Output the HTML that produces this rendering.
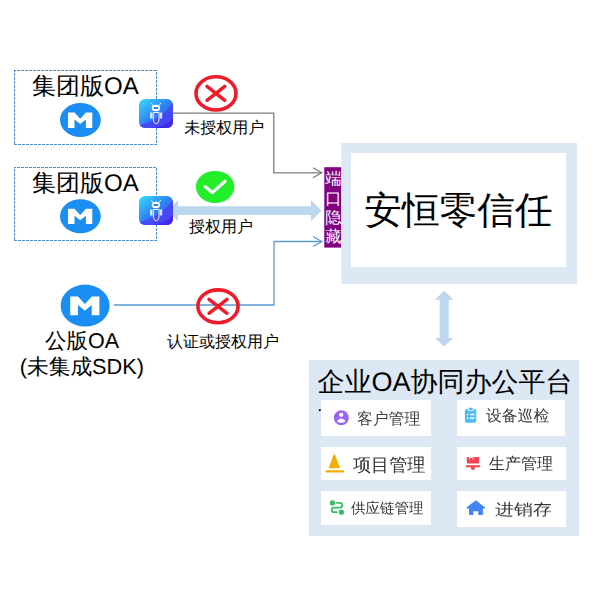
<!DOCTYPE html>
<html><head><meta charset="utf-8">
<style>
html,body{margin:0;padding:0;background:#fff;}
body{width:601px;height:601px;position:relative;overflow:hidden;font-family:"Liberation Sans",sans-serif;}
svg.bg{position:absolute;left:0;top:0;}
.t{position:absolute;white-space:nowrap;line-height:1;color:#000;text-rendering:geometricPrecision;}
</style></head><body>
<svg class="bg" width="601" height="601" viewBox="0 0 601 601">
  <defs>
    <filter id="soft" x="-10%" y="-10%" width="120%" height="120%"><feGaussianBlur stdDeviation="0.45"/></filter>
    <linearGradient id="rg" x1="0" y1="0" x2="1" y2="1">
      <stop offset="0" stop-color="#33e0fb"/>
      <stop offset="0.5" stop-color="#3080f4"/>
      <stop offset="1" stop-color="#3b55f2"/>
    </linearGradient>
    <g id="robot">
      <clipPath id="rclip"><rect x="0" y="0" width="34" height="29" rx="6" ry="6"/></clipPath>
      <rect x="0" y="0" width="34" height="29" rx="6" ry="6" fill="url(#rg)"/>
      <g clip-path="url(#rclip)">
        <path d="M0 26 Q20 22 34 4 L34 29 L0 29Z" fill="#4b40f2" opacity="0.8"/>
        <path d="M12 29 Q28 27 34 19 L34 29Z" fill="#3f1ce8" opacity="0.7"/>
      </g>
      <g stroke="#fff" fill="none" stroke-width="0.9">
        <line x1="12.1" y1="4" x2="14.1" y2="6.4"/>
        <line x1="21.9" y1="4" x2="19.9" y2="6.4"/>
        <path d="M14.3 13.5 L20.1 13.5 L20.1 18 Q20.1 24.7 17.2 24.7 Q14.3 24.7 14.3 18 Z"/>
      </g>
      <ellipse cx="16.9" cy="9" rx="4.2" ry="3.3" fill="#fff"/>
      <rect x="14.5" y="8" width="4.8" height="2.1" rx="1" fill="#2b80f2"/>
      <rect x="11.1" y="13.6" width="2.4" height="5.8" rx="0.3" fill="#fff" opacity="0.82"/>
      <rect x="20.8" y="13.6" width="2.4" height="5.8" rx="0.3" fill="#fff" opacity="0.82"/>
    </g>
    <g id="mlogo">
      <ellipse cx="0" cy="0" rx="20.4" ry="17" fill="#1a8ef3"/>
      <path d="M-12.4 7.9 L-12.4 -7.4 L-5.9 -7.4 L-0.2 -1.3 L5.5 -7.4 L11.9 -7.4 L11.9 7.9 L5.5 7.9 L5.5 -0.4 L-0.2 4.1 L-5.9 -0.4 L-5.9 7.9 Z" fill="#fff"/>
    </g>
  </defs>

  <!-- dashed boxes -->
  <g stroke="#4d8fd4" stroke-width="1" stroke-dasharray="3 1" fill="none">
    <line x1="14" y1="70.5" x2="157" y2="70.5" stroke-dashoffset="1"/>
    <line x1="14.5" y1="70" x2="14.5" y2="145" stroke-dashoffset="1"/>
    <line x1="14" y1="144.5" x2="157" y2="144.5" stroke-dashoffset="0"/>
    <line x1="156.5" y1="70" x2="156.5" y2="145" stroke-dashoffset="2"/>
    <line x1="14" y1="167.5" x2="157" y2="167.5" stroke-dashoffset="1"/>
    <line x1="14.5" y1="167" x2="14.5" y2="241" stroke-dashoffset="2"/>
    <line x1="14" y1="240.5" x2="157" y2="240.5" stroke-dashoffset="0"/>
    <line x1="156.5" y1="167" x2="156.5" y2="241" stroke-dashoffset="3"/>
  </g>

  <!-- gray connector -->
  <polyline points="173,113.2 273.8,113.2 273.8,172.8 321.5,172.8" fill="none" stroke="#7f7f7f" stroke-width="1.3"/>
  <polyline points="313,167.8 321.8,172.8 313,177.8" fill="none" stroke="#7f7f7f" stroke-width="1.3"/>

  <!-- blue connector -->
  <polyline points="114,305 274,305 274,241.5 321.5,241.5" fill="none" stroke="#5b9bd5" stroke-width="1.3"/>
  <polyline points="313,236.5 321.8,241.5 313,246.5" fill="none" stroke="#5b9bd5" stroke-width="1.3"/>

  <!-- thick double arrow -->
  <path filter="url(#soft)" d="M168 210.5 L178 200 L178 206.2 L311 206.2 L311 200.2 L321.5 210.6 L311 221.2 L311 215 L178 215 L178 221.5 Z" fill="#bdd7ee"/>

  <!-- logos -->
  <use href="#mlogo" transform="translate(80.4,120)"/>
  <use href="#mlogo" transform="translate(80.4,216.2)"/>
  <use href="#mlogo" transform="translate(85.1,305.6) scale(1.2,1.235)"/>

  <!-- robots -->
  <use href="#robot" transform="translate(139,99)"/>
  <use href="#robot" transform="translate(139,196)"/>

  <!-- red x circles -->
  <ellipse cx="216" cy="93.4" rx="20" ry="16.6" fill="#fff" stroke="#ee1c2b" stroke-width="3.6"/>
  <path d="M207 86.3 L224.8 100.3 M224.8 86.3 L207 100.3" stroke="#ee1c2b" stroke-width="3.4" stroke-linecap="round"/>
  <ellipse cx="218" cy="306.3" rx="20.1" ry="16.4" fill="none" stroke="#ee1c2b" stroke-width="3.6"/>
  <path d="M209 299.3 L227 313.3 M227 299.3 L209 313.3" stroke="#ee1c2b" stroke-width="3.4" stroke-linecap="round"/>
  <!-- green check -->
  <ellipse cx="215.1" cy="186.9" rx="19.2" ry="16" fill="#22ee2a"/>
  <polyline points="205,186.6 212.3,192.6 225,181.3" fill="none" stroke="#fff" stroke-width="3.2" stroke-linecap="round" stroke-linejoin="round"/>

  <!-- purple bar -->
  <rect x="324.3" y="167.2" width="17" height="80.4" fill="#800080"/>

  <!-- zero trust panel -->
  <rect x="341.2" y="143" width="236" height="141" fill="#dce8f4"/>
  <rect x="351" y="153" width="215" height="114" fill="#fff"/>

  <!-- vertical double arrow -->
  <path filter="url(#soft)" d="M444.2 290.8 L453.6 299.8 L448.7 299.8 L448.7 338 L453.6 338 L444.2 346.6 L434.9 338 L439.7 338 L439.7 299.8 L434.9 299.8 Z" fill="#bdd7ee"/>

  <!-- OA panel -->
  <rect x="309" y="360" width="270" height="176" fill="#dce8f4"/>
  <rect x="321" y="400" width="110" height="36" fill="#fff"/>
  <rect x="321" y="447" width="110" height="33" fill="#fff"/>
  <rect x="321" y="491" width="110" height="34" fill="#fff"/>
  <rect x="457" y="400" width="108" height="36" fill="#fff"/>
  <rect x="457" y="447" width="109" height="33" fill="#fff"/>
  <rect x="457" y="491" width="109" height="36" fill="#fff"/>

  <!-- icons -->
  <circle cx="319.8" cy="410.2" r="1.1" fill="#111"/>
  <circle cx="341.3" cy="417.7" r="7.5" fill="#9b62f6"/>
  <circle cx="341.2" cy="414.8" r="2.15" fill="#fff"/>
  <path d="M336.7 421.2 Q341.2 416 345.7 421.2 Q341.2 424.5 336.7 421.2Z" fill="#fff"/>

  <path d="M334.3 454.3 Q335 454.3 335.5 456 L340 468.3 L328.6 468.3 L333.1 456 Q333.6 454.3 334.3 454.3Z" fill="#f2b000"/>
  <line x1="326.5" y1="471.3" x2="343" y2="471.3" stroke="#f2b000" stroke-width="2.3" stroke-linecap="round"/>

  <circle cx="332.4" cy="502.9" r="2.6" fill="#38bb66"/>
  <circle cx="341.4" cy="512.2" r="2.6" fill="#38bb66"/>
  <path d="M336.3 502.9 L339.8 502.9 A2.4 2.4 0 0 1 339.8 507.7 L334 507.7 A2.25 2.25 0 0 0 334 512.2 L337.7 512.2" fill="none" stroke="#38bb66" stroke-width="1.7"/>

  <rect x="464.9" y="409" width="11.3" height="13.7" rx="1.8" fill="#4fbdf5"/>
  <rect x="467.7" y="407.2" width="6" height="3.6" rx="1.2" fill="#fff"/>
  <rect x="468.6" y="407.8" width="4.2" height="2.2" rx="0.7" fill="#4fbdf5"/>
  <circle cx="467.6" cy="414.5" r="0.85" fill="#fff"/>
  <circle cx="467.6" cy="418.1" r="0.85" fill="#fff"/>
  <line x1="470.1" y1="414.5" x2="474.4" y2="414.5" stroke="#fff" stroke-width="1.5"/>
  <line x1="470.1" y1="418.1" x2="474.4" y2="418.1" stroke="#fff" stroke-width="1.5"/>

  <path d="M467.8 457 L478.3 457 Q479.3 457 479.3 458 L479 463.6 L467 463.6 L466.7 458 Q466.7 457 467.8 457Z" fill="#ef4550"/>
  <rect x="469" y="456.8" width="0.9" height="2.6" fill="#fff"/>
  <rect x="472.5" y="456.8" width="0.9" height="2.6" fill="#fff"/>
  <rect x="469.9" y="456.8" width="2.6" height="1.2" fill="#fff"/>
  <line x1="466.6" y1="466.2" x2="479.4" y2="466.2" stroke="#ef4550" stroke-width="2" stroke-linecap="round"/>
  <path d="M470.8 466.5 L475 466.5 L474.6 469.3 Q472.9 470.6 471.2 469.3Z" fill="#ef4550"/>

  <path d="M475.8 500.3 L485.1 507.6 Q485.2 508.4 484.4 508.4 L482.9 508.4 L482.9 515 L478.3 515 L478.3 511.3 L473.3 511.3 L473.3 515 L469 515 L469 508.4 L467.2 508.4 Q466.4 508.4 466.5 507.6 Z" fill="#4285f4"/>
</svg>

<div class="t" style="left:32px;top:74.5px;font-size:24px;">集团版OA</div>
<div class="t" style="left:32px;top:171.5px;font-size:24px;">集团版OA</div>
<div class="t" style="left:45px;top:330.5px;font-size:21.5px;">公版OA</div>
<div class="t" style="left:19.8px;top:355.5px;font-size:21.7px;">(未集成SDK)</div>
<div class="t" style="left:184.3px;top:121px;font-size:16px;">未授权用户</div>
<div class="t" style="left:189px;top:219.7px;font-size:16px;">授权用户</div>
<div class="t" style="left:167px;top:335px;font-size:16px;">认证或授权用户</div>
<div class="t" style="left:364.2px;top:192.2px;font-size:37.7px;">安恒零信任</div>
<div class="t" style="left:325.3px;top:170.2px;font-size:16.3px;line-height:19.4px;width:17px;white-space:normal;color:#fff;font-weight:500;">端口隐藏</div>
<div class="t" style="left:317.5px;top:368.5px;font-size:27px;">企业OA协同办公平台</div>
<div class="t" style="will-change:transform;left:356.5px;top:411.5px;font-size:15.8px;color:#3c3c3c;">客户管理</div>
<div class="t" style="will-change:transform;left:353px;top:455.5px;font-size:18.1px;color:#333;">项目管理</div>
<div class="t" style="will-change:transform;left:351px;top:501.5px;font-size:14.5px;color:#333;">供应链管理</div>
<div class="t" style="will-change:transform;left:486.3px;top:409px;font-size:15.8px;color:#3c3c3c;">设备巡检</div>
<div class="t" style="will-change:transform;left:489px;top:457px;font-size:16px;color:#333;">生产管理</div>
<div class="t" style="will-change:transform;left:495px;top:498.5px;font-size:19px;color:#333;transform:scaleY(0.82);transform-origin:0 100%;">进销存</div>
</body></html>
